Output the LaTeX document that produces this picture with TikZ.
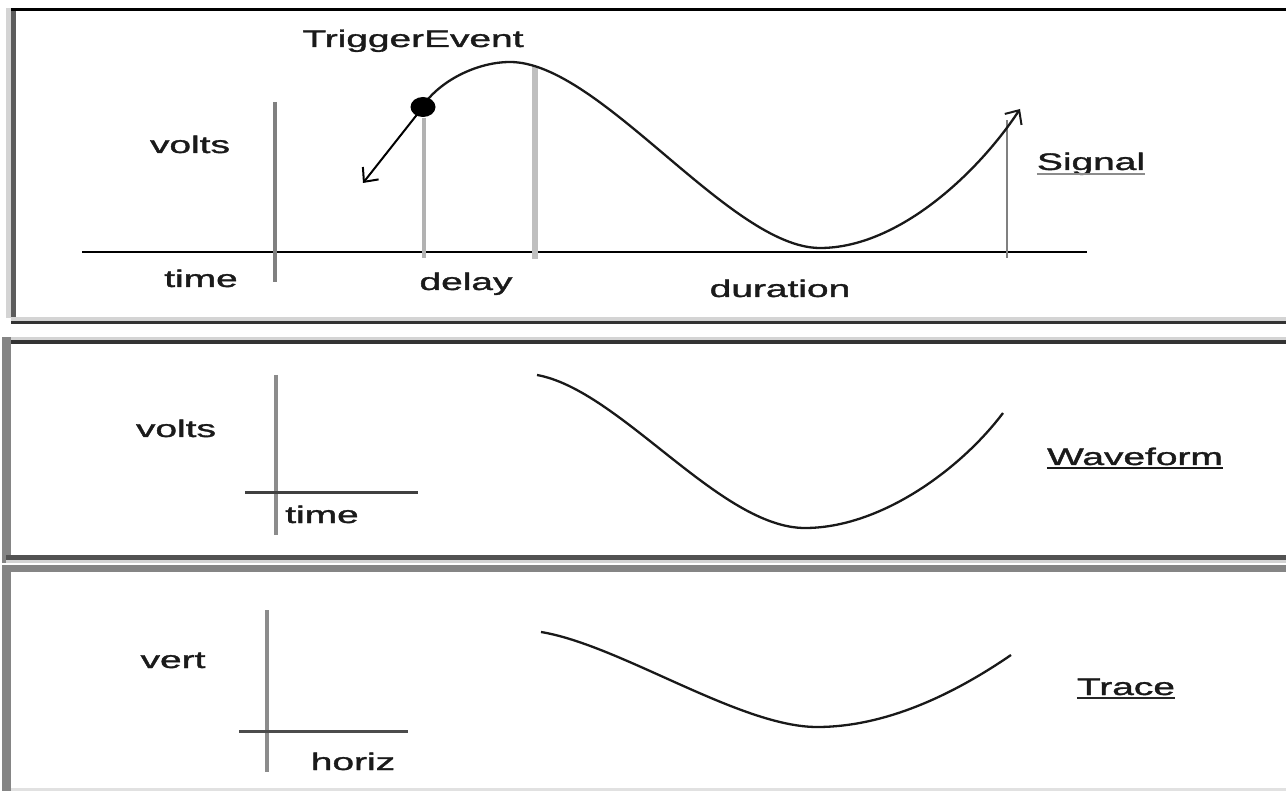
\documentclass[tikz,border=0pt]{standalone}
\usepackage{fontspec}
\setmainfont{Liberation Sans}
\newfontfamily\lblfont{Liberation Sans}[FakeBold=1.2]
\usetikzlibrary{arrows.meta,shapes.geometric}
\definecolor{txt}{HTML}{1A1A1A}
\definecolor{axisgray}{HTML}{808080}
\definecolor{lightbar}{HTML}{D4D4D4}
\definecolor{darkbar}{HTML}{333333}
\definecolor{midbar}{HTML}{858585}
\newcommand{\wide}[1]{\scalebox{1.62}[1]{#1}}
\tikzset{
  lbl/.style={anchor=base, inner sep=0pt, text=txt, font=\lblfont\fontsize{24}{28}\selectfont},
  curve/.style={line width=2.3pt, draw=black!90},
  tip/.style={-{Straight Barb[length=11pt,width=20pt,line width=2pt]}},
  gaxis/.style={draw=axisgray, line width=4pt},
}
\begin{document}
\begin{tikzpicture}[x=1pt,y=-1pt]
\useasboundingbox (0,0) rectangle (1286,791);
\clip (0,0) rectangle (1286,791);
% ---------- panel frames ----------
% panel 1
\fill[lightbar] (6,8) rectangle (11,318);
\fill[darkbar!80] (11,8) rectangle (16,318);
\fill[black] (11,8) rectangle (1300,11);
\fill[lightbar] (11,317) rectangle (1300,321);
\fill[darkbar] (11,321) rectangle (1300,324);
% panel 2
\fill[lightbar] (6,337) rectangle (1300,340);
\fill[darkbar] (6,340) rectangle (1300,344);
\fill[midbar] (2,337) rectangle (11,563);
\fill[darkbar!85] (6,555) rectangle (1300,560);
\fill[lightbar] (6,560) rectangle (1300,563);
% panel 3
\fill[midbar] (6,565) rectangle (1300,572);
\fill[midbar] (2,565) rectangle (11,791);
\fill[lightbar!70] (11,788) rectangle (1300,791);

% ---------- panel 1: Signal ----------
\coordinate (b1) at (82,252);
\coordinate (b2) at (1087,252);
\draw[line width=2.5pt, black] (b1) -- (b2);
\coordinate (ax1t) at (275,102);
\coordinate (ax1b) at (275,282);
\draw[gaxis] (ax1t) -- (ax1b);
\coordinate (dly) at (424,118);
\coordinate (dlyb) at (424,258);
\draw[draw=black!30, line width=3.5pt] (dly) -- (dlyb);
\coordinate (pk) at (535,66);
\coordinate (pkb) at (535,259);
\draw[draw=black!25, line width=6pt] (pk) -- (pkb);
\coordinate (sgb) at (1007,258);
\coordinate (sgt) at (1007,120);
\draw[draw=axisgray, line width=2.5pt] (sgb) -- (sgt);
\coordinate (s0) at (422,107);
\coordinate (s1) at (510,62);
\coordinate (s2) at (820,248);
\coordinate (s3) at (1020,109);
\draw[curve, tip] (s0) .. controls (440,80) and (478,62) .. (s1)
  .. controls (600,62) and (730,248) .. (s2)
  .. controls (900,248) and (980,170) .. (s3);
\node[draw=none, fill=black, ellipse, minimum width=25pt, minimum height=20pt, inner sep=0pt] (dot) at (423,107) {};
\coordinate (trg) at (363,183);
\draw[line width=2pt, black, tip] (dot.center) -- (trg);

\node[lbl] (trigger) at (413,47) {\wide{TriggerEvent}};
\node[lbl] (volts1) at (190,153) {\wide{volts}};
\node[lbl] (time1) at (201,287) {\wide{time}};
\node[lbl] (delay) at (466,290) {\wide{delay}};
\node[lbl] (duration) at (780,297) {\wide{duration}};
\node[lbl] (signal) at (1091,170) {\wide{Signal}};
\draw[draw=black!45, line width=2.5pt] ([yshift=-4pt]signal.base west) -- ([yshift=-4pt]signal.base east);

% ---------- panel 2: Waveform ----------
\coordinate (ax2t) at (276,375);
\coordinate (ax2b) at (276,535);
\draw[gaxis, draw=black!45] (ax2t) -- (ax2b);
\coordinate (h2l) at (245,493);
\coordinate (h2r) at (418,493);
\draw[draw=black!75, line width=3pt] (h2l) -- (h2r);
\coordinate (w0) at (537,375);
\coordinate (w1) at (805,528);
\coordinate (w2) at (1003,413);
\draw[curve] (w0) .. controls (620,390) and (720,528) .. (w1)
  .. controls (880,528) and (960,470) .. (w2);
\node[lbl] (volts2) at (176,437) {\wide{volts}};
\node[lbl] (time2) at (322,523) {\wide{time}};
\node[lbl] (waveform) at (1135,465) {\wide{Waveform}};
\draw[draw=black!90, line width=2.5pt] ([yshift=-3pt]waveform.base west) -- ([yshift=-3pt]waveform.base east);

% ---------- panel 3: Trace ----------
\coordinate (ax3t) at (267,610);
\coordinate (ax3b) at (267,772);
\draw[gaxis, draw=black!45] (ax3t) -- (ax3b);
\coordinate (h3l) at (239,731);
\coordinate (h3r) at (408,731);
\draw[draw=black!70, line width=3pt] (h3l) -- (h3r);
\coordinate (t0) at (541,632);
\coordinate (t1) at (817,727);
\coordinate (t2) at (1011,655);
\draw[curve] (t0) .. controls (620,645) and (740,727) .. (t1)
  .. controls (890,727) and (960,690) .. (t2);
\node[lbl] (vert) at (173,668) {\wide{vert}};
\node[lbl] (horiz) at (353,770) {\wide{horiz}};
\node[lbl] (trace) at (1126,695) {\wide{Trace}};
\draw[draw=black!85, line width=2.5pt] ([yshift=-3pt]trace.base west) -- ([yshift=-3pt]trace.base east);
\end{tikzpicture}
\end{document}
